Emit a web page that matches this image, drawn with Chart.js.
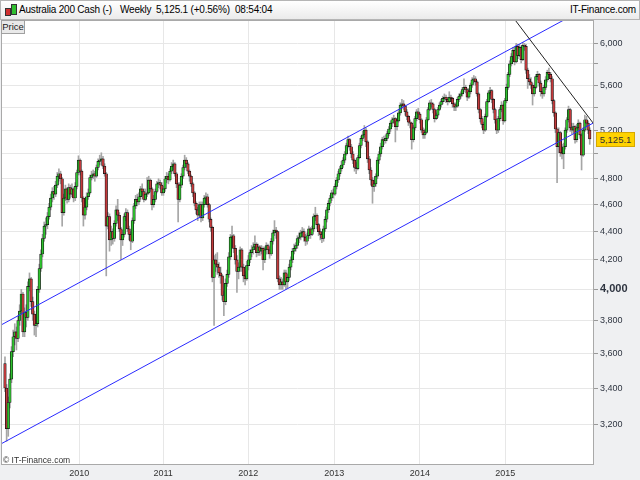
<!DOCTYPE html>
<html>
<head>
<meta charset="utf-8">
<title>Australia 200 Cash - Weekly</title>
<script src="https://cdn.jsdelivr.net/npm/chart.js"></script>
<style>
  body { margin: 0; background: #fff; font-family: "Liberation Sans", Arial, sans-serif; }
  #wrap { position: relative; width: 640px; height: 480px; overflow: hidden; }
  #chart { position: absolute; left: 0; top: 0; }
  .head { position: absolute; left: 0; top: 0; width: 638px; height: 18px; background: linear-gradient(#ffffff, #ebebeb); border: 1px solid #b5b5b5; font-size: 10px; color: #000; letter-spacing: -0.2px; }
  .head span { position: absolute; top: 3px; white-space: nowrap; }
  .ico { position: absolute; border: 1px solid #333; }
  .price { position: absolute; left: 1px; top: 20px; width: 22px; height: 12px; background: #e9e9e9; border: 1px solid #a0a0a0; font-size: 9.5px; line-height: 12px; text-align: center; color: #222; }
  .copy { position: absolute; left: 3px; top: 455px; font-size: 8.5px; color: #333; }
  #lastTag { position: absolute; left: 596px; top: 132px; width: 37px; height: 13px; background: #ffd200; border: 1px solid #d6a800; font-size: 9.5px; line-height: 13px; text-align: center; color: #333; }
</style>
</head>
<body>
<div id="wrap">
  <canvas id="chart" width="640" height="480"></canvas>
  <div class="head">
    <div class="ico" style="left:4px;top:7px;width:4px;height:6px;background:#d03030;"></div>
    <div class="ico" style="left:10px;top:3px;width:4px;height:9px;background:#30c030;"></div>
    <span style="left:18px;">Australia 200 Cash (-)</span>
    <span style="left:119px;">Weekly</span>
    <span style="left:155px;">5,125.1 (+0.56%)</span>
    <span style="left:234px;">08:54:04</span>
    <span style="right:3px;">IT-Finance.com</span>
  </div>
  <div class="price">Price</div>
  <div class="copy">© IT-Finance.com</div>
  <div id="lastTag">5,125.1</div>
</div>
<script>
// weekly candles, Feb 2009 -> Dec 2015 (one entry per week, open = previous close)
const firstOpen = 3540;
const closes = [
  3400,3180,3320,3450,3610,3700,3730,3690,3800,3860,
  3970,3730,3850,3820,4020,4070,3920,3840,3770,3780,
  4000,4140,4240,4350,4440,4450,4510,4580,4650,4700,
  4680,4750,4820,4840,4800,4540,4650,4720,4640,4730,
  4680,4720,4650,4740,4850,4950,4860,4650,4520,4580,
  4660,4690,4810,4830,4840,4820,4890,4940,4950,4960,
  4900,4840,4440,4510,4340,4400,4350,4460,4560,4520,
  4420,4340,4380,4510,4540,4420,4380,4330,4480,4590,
  4640,4620,4660,4720,4700,4640,4680,4690,4790,4720,
  4600,4640,4700,4760,4770,4750,4690,4720,4800,4820,
  4790,4860,4900,4920,4840,4760,4640,4750,4820,4890,
  4950,4920,4860,4820,4760,4690,4610,4560,4520,4600,
  4500,4600,4650,4660,4600,4490,4430,4080,4200,4170,
  4150,4110,4090,3960,3920,4040,4100,4220,4360,4370,
  4280,4200,4120,4150,4270,4150,4090,4070,4160,4200,
  4250,4270,4290,4310,4250,4290,4260,4280,4200,4270,
  4300,4270,4240,4330,4390,4410,4400,4070,4030,4050,
  4030,4110,4050,4080,4150,4200,4260,4280,4300,4350,
  4360,4390,4400,4360,4330,4370,4420,4380,4420,4510,
  4520,4450,4400,4380,4350,4420,4490,4560,4610,4650,
  4690,4680,4740,4790,4840,4880,4910,4950,5000,5070,
  5120,5060,5000,4950,4890,4880,4970,5070,5130,5160,
  5200,5100,4960,4870,4790,4740,4760,4820,4950,5000,
  5060,5120,5110,5130,5170,5210,5260,5290,5300,5230,
  5280,5350,5420,5430,5410,5360,5320,5270,5260,5120,
  5220,5300,5360,5340,5290,5200,5160,5180,5290,5380,
  5440,5430,5380,5300,5330,5380,5420,5450,5480,5490,
  5470,5450,5490,5480,5430,5400,5410,5470,5500,5520,
  5560,5580,5560,5490,5540,5600,5650,5660,5630,5520,
  5380,5300,5250,5200,5320,5450,5530,5550,5470,5380,
  5290,5200,5300,5380,5420,5280,5460,5580,5700,5800,
  5870,5930,5820,5970,5880,5960,5840,5980,5970,5740,
  5660,5630,5600,5520,5580,5680,5700,5620,5540,5520,
  5580,5650,5720,5700,5660,5460,5350,5210,5060,5180,
  5010,5000,5060,5200,5290,5380,5220,5200,5230,5120,
  5220,5260,5160,4990,5200,5290,5260,5200,5125.1
];
const highs = [
  3580,3420,3350,3480,3640,3740,3780,3760,3830,3900,
  4000,3980,3880,3900,4050,4110,4080,3950,3860,3820,
  4020,4170,4270,4380,4470,4500,4540,4610,4680,4730,
  4740,4780,4850,4880,4860,4810,4680,4750,4730,4760,
  4750,4760,4730,4770,4870,4985,4960,4870,4660,4620,
  4690,4720,4830,4860,4870,4860,4910,4960,4990,5010,
  4980,4920,4850,4540,4530,4440,4420,4480,4590,4640,
  4540,4430,4410,4530,4570,4560,4440,4400,4500,4610,
  4670,4680,4690,4740,4760,4720,4720,4810,4820,4800,
  4730,4670,4720,4780,4800,4790,4770,4740,4820,4850,
  4840,4880,4930,4950,4930,4850,4770,4770,4840,4910,
  4990,4970,4930,4870,4830,4770,4700,4620,4580,4620,
  4620,4620,4670,4690,4680,4610,4500,4440,4230,4240,
  4250,4180,4150,4100,3990,4070,4130,4250,4380,4440,
  4380,4300,4230,4180,4290,4280,4170,4120,4190,4230,
  4270,4300,4320,4370,4320,4310,4300,4300,4290,4290,
  4320,4310,4290,4350,4410,4480,4430,4400,4090,4080,
  4070,4130,4130,4100,4170,4220,4280,4310,4320,4370,
  4390,4410,4430,4420,4380,4390,4440,4430,4440,4530,
  4580,4530,4460,4420,4400,4440,4510,4580,4630,4670,
  4710,4720,4760,4810,4860,4900,4940,4970,5020,5090,
  5150,5130,5080,5020,4960,4930,4990,5090,5150,5190,
  5240,5220,5110,4980,4890,4810,4790,4840,4970,5020,
  5090,5140,5150,5160,5190,5230,5280,5310,5330,5310,
  5300,5370,5440,5470,5460,5420,5380,5330,5290,5270,
  5240,5320,5380,5390,5350,5300,5220,5210,5310,5400,
  5460,5470,5440,5390,5350,5400,5440,5470,5500,5520,
  5510,5490,5540,5510,5490,5440,5440,5490,5520,5540,
  5580,5660,5600,5570,5570,5620,5670,5690,5680,5640,
  5530,5390,5320,5270,5340,5470,5550,5580,5560,5480,
  5390,5300,5320,5400,5450,5430,5480,5610,5720,5830,
  5900,5960,5960,6000,5990,5990,5970,6010,6000,5990,
  5760,5700,5670,5620,5600,5700,5730,5710,5640,5580,
  5600,5680,5740,5760,5720,5680,5470,5360,5220,5220,
  5190,5080,5090,5220,5310,5410,5390,5260,5260,5240,
  5250,5290,5270,5170,5220,5330,5320,5280,5220
];
const lows = [
  3380,3115,3140,3290,3430,3580,3650,3620,3670,3770,
  3840,3700,3700,3760,3800,3990,3890,3800,3710,3700,
  3760,3980,4120,4220,4330,4380,4420,4490,4560,4620,
  4640,4660,4730,4780,4760,4440,4520,4630,4610,4620,
  4650,4660,4620,4630,4720,4830,4830,4620,4440,4490,
  4560,4640,4680,4790,4800,4780,4810,4870,4910,4910,
  4880,4820,4090,4420,4260,4300,4310,4330,4440,4480,
  4400,4200,4300,4360,4480,4400,4340,4270,4320,4460,
  4570,4590,4600,4640,4670,4620,4630,4660,4680,4700,
  4560,4580,4620,4690,4730,4720,4670,4670,4700,4770,
  4760,4780,4840,4870,4820,4730,4470,4620,4730,4800,
  4870,4890,4840,4780,4740,4660,4590,4530,4480,4500,
  4470,4480,4580,4610,4580,4470,4400,4050,3770,4120,
  4100,4080,4040,3930,3830,3900,4020,4080,4200,4300,
  4250,4170,3980,4070,4120,4120,4050,4030,4060,4130,
  4180,4220,4240,4270,4220,4230,4230,4240,4130,4180,
  4240,4240,4210,4230,4310,4370,4350,4050,4000,4000,
  4000,4020,4000,4010,4060,4130,4180,4240,4260,4280,
  4320,4340,4360,4330,4300,4310,4350,4350,4370,4400,
  4480,4420,4370,4340,4320,4330,4400,4470,4540,4590,
  4630,4650,4670,4720,4770,4820,4860,4890,4930,4990,
  5050,5030,4970,4920,4860,4840,4870,4960,5050,5110,
  5140,5060,4930,4840,4750,4610,4700,4740,4800,4920,
  4980,5040,5080,5090,5110,5150,5190,5230,5260,5100,
  5200,5270,5330,5390,5380,5330,5290,5240,5220,5040,
  5100,5200,5280,5310,5260,5180,5130,5130,5170,5280,
  5370,5400,5350,5270,5290,5310,5370,5400,5430,5450,
  5440,5420,5440,5450,5400,5370,5370,5400,5450,5480,
  5500,5540,5530,5460,5480,5520,5580,5620,5600,5500,
  5350,5270,5220,5170,5190,5310,5440,5510,5440,5350,
  5260,5170,5180,5280,5360,5250,5270,5440,5560,5680,
  5780,5850,5790,5810,5850,5870,5810,5830,5930,5710,
  5570,5600,5570,5420,5500,5570,5650,5590,5500,5480,
  5500,5560,5630,5670,5630,5430,5320,5180,4770,5010,
  4980,4960,4880,5040,5180,5270,5190,5170,5180,5090,
  5100,5200,5130,4870,4980,5190,5230,5170,5080
];

// axes
const yearTicks = [45.5, 96.8, 149.0, 201.6, 254.0, 306.2];
const yearLabels = ['2010', '2011', '2012', '2013', '2014', '2015'];
const yTickValues = [3200, 3400, 3600, 3800, 4000, 4200, 4400, 4600, 4800, 5000, 5200, 5400, 5600, 5800, 6000];
const yTickLabels = ['3,200', '3,400', '3,600', '3,800', '4,000', '4,200', '4,400', '4,600', '4,800', '', '5,200', '', '5,600', '', '6,000'];

// drawn trend lines (week position, price)
const channelX = [-2.44, 360.6];
const upperY = [3772, 6405];
const lowerY = [3101, 5265];
const resistX = [306.2, 360.6];
const resistY = [6372, 5251];

const weeks = closes.map((c, i) => i);
const opens = closes.map((c, i) => i === 0 ? firstOpen : closes[i - 1]);
const lastClose = closes[closes.length - 1];

const frame = {
  id: 'frame',
  beforeDraw(chart) {
    const { ctx, chartArea: a, width, height } = chart;
    ctx.save();
    ctx.fillStyle = '#eff0f2';
    ctx.fillRect(0, 0, width, height);
    ctx.fillStyle = '#ffffff';
    ctx.fillRect(a.left, a.top, a.right - a.left, a.bottom - a.top);
    ctx.restore();
  },
  afterDraw(chart) {
    const { ctx, chartArea: a } = chart;
    ctx.save();
    ctx.strokeStyle = '#a9a9a9';
    ctx.lineWidth = 1;
    ctx.strokeRect(a.left + 0.5, a.top + 0.5, a.right - a.left - 1, a.bottom - a.top);
    ctx.restore();
    const tag = document.getElementById('lastTag');
    tag.style.top = Math.round(chart.scales.y.getPixelForValue(lastClose) - 7) + 'px';
  }
};

Chart.defaults.font.family = '"Liberation Sans", Arial, sans-serif';

new Chart(document.getElementById('chart'), {
  type: 'bar',
  data: {
    datasets: [
      {
        label: 'wicks',
        data: weeks.map(i => ({ x: i, y: [lows[i], highs[i]] })),
        backgroundColor: '#a6a6a6',
        barThickness: 1,
        grouped: false,
        order: 3
      },
      {
        label: 'bodies',
        data: weeks.map(i => ({ x: i, y: [opens[i], closes[i]] })),
        backgroundColor: weeks.map(i => closes[i] >= opens[i] ? '#2ec22e' : '#c23a3c'),
        borderColor: '#111',
        borderWidth: 0.7,
        borderSkipped: false,
        barThickness: 2.6,
        grouped: false,
        order: 2
      },
      {
        type: 'line',
        label: 'upper channel',
        data: channelX.map((x, i) => ({ x: x, y: upperY[i] })),
        borderColor: '#2a2aff',
        borderWidth: 1,
        pointRadius: 0,
        order: 1
      },
      {
        type: 'line',
        label: 'lower channel',
        data: channelX.map((x, i) => ({ x: x, y: lowerY[i] })),
        borderColor: '#2a2aff',
        borderWidth: 1,
        pointRadius: 0,
        order: 1
      },
      {
        type: 'line',
        label: 'resistance',
        data: resistX.map((x, i) => ({ x: x, y: resistY[i] })),
        borderColor: '#222',
        borderWidth: 1,
        pointRadius: 0,
        order: 0
      }
    ]
  },
  options: {
    responsive: false,
    animation: false,
    layout: { padding: { top: 20, left: 1, right: 0, bottom: 0 } },
    plugins: { legend: { display: false }, tooltip: { enabled: false } },
    scales: {
      x: {
        type: 'linear',
        min: channelX[0],
        max: channelX[1],
        offset: false,
        grid: { color: '#e7e7e7', offset: false, drawTicks: false },
        border: { display: false },
        afterBuildTicks: s => { s.ticks = yearTicks.map(v => ({ value: v })); },
        afterFit: s => { s.height = 16; },
        ticks: {
          autoSkip: false,
          maxRotation: 0,
          padding: 4,
          color: '#333',
          font: { size: 9 },
          callback: (v, i) => yearLabels[i]
        }
      },
      y: {
        type: 'logarithmic',
        position: 'right',
        min: 3000,
        max: 6235,
        grid: { color: '#e7e7e7', tickLength: 4, tickColor: '#999' },
        border: { display: false },
        afterBuildTicks: s => { s.ticks = yTickValues.map(v => ({ value: v })); },
        afterFit: s => { s.width = 46; },
        ticks: {
          autoSkip: false,
          padding: 2,
          color: '#2e3440',
          font: c => (c.tick && c.tick.value === 4000) ? { size: 11, weight: 'bold' } : { size: 9 },
          callback: (v, i) => yTickLabels[i]
        }
      }
    }
  },
  plugins: [frame]
});
</script>
</body>
</html>
